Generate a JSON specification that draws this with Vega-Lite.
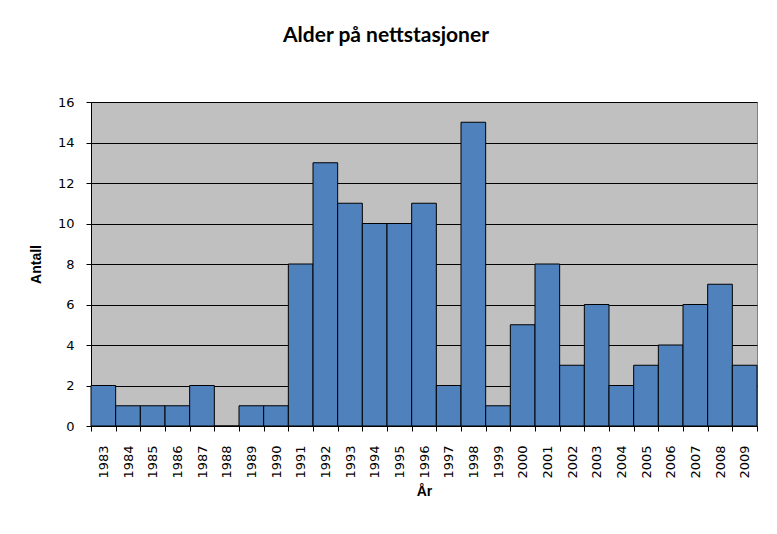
{
  "$schema": "https://vega.github.io/schema/vega-lite/v6.json",
  "width": 666,
  "height": 324,
  "autosize": {"type": "none"},
  "padding": {"left": 91, "top": 102, "right": 20, "bottom": 108},
  "background": "white",
  "title": {
    "text": "Alder på nettstasjoner",
    "font": "Lato",
    "fontSize": 21,
    "fontWeight": "bold",
    "color": "black",
    "anchor": "middle",
    "offset": 50,
    "dx": -38
  },
  "data": {
    "values": [
      {"year": "1983", "count": 2},
      {"year": "1984", "count": 1},
      {"year": "1985", "count": 1},
      {"year": "1986", "count": 1},
      {"year": "1987", "count": 2},
      {"year": "1988", "count": 0},
      {"year": "1989", "count": 1},
      {"year": "1990", "count": 1},
      {"year": "1991", "count": 8},
      {"year": "1992", "count": 13},
      {"year": "1993", "count": 11},
      {"year": "1994", "count": 10},
      {"year": "1995", "count": 10},
      {"year": "1996", "count": 11},
      {"year": "1997", "count": 2},
      {"year": "1998", "count": 15},
      {"year": "1999", "count": 1},
      {"year": "2000", "count": 5},
      {"year": "2001", "count": 8},
      {"year": "2002", "count": 3},
      {"year": "2003", "count": 6},
      {"year": "2004", "count": 2},
      {"year": "2005", "count": 3},
      {"year": "2006", "count": 4},
      {"year": "2007", "count": 6},
      {"year": "2008", "count": 7},
      {"year": "2009", "count": 3}
    ]
  },
  "mark": {"type": "bar", "fill": "#4F81BD", "stroke": "black", "strokeWidth": 1},
  "encoding": {
    "x": {
      "field": "year",
      "type": "ordinal",
      "scale": {"paddingInner": 0, "paddingOuter": 0},
      "axis": {
        "title": "År",
        "labelAngle": -90,
        "labelFont": "DejaVu Sans",
        "labelFontSize": 13,
        "labelColor": "black",
        "labelPadding": 14,
        "tickBand": "extent",
        "tickSize": 5,
        "tickColor": "black",
        "domainColor": "black",
        "titleFont": "Liberation Sans",
        "titleFontSize": 14,
        "titleFontWeight": "bold",
        "titleColor": "black",
        "titlePadding": 6
      }
    },
    "y": {
      "field": "count",
      "type": "quantitative",
      "scale": {"domain": [0, 16]},
      "axis": {
        "title": "Antall",
        "values": [0, 2, 4, 6, 8, 10, 12, 14, 16],
        "labelFont": "DejaVu Sans",
        "labelFontSize": 13,
        "labelColor": "black",
        "labelPadding": 12,
        "tickSize": 5,
        "tickColor": "black",
        "domainColor": "black",
        "grid": true,
        "gridColor": "black",
        "gridWidth": 1,
        "gridOpacity": 1,
        "titleFont": "Liberation Sans",
        "titleFontSize": 14,
        "titleFontWeight": "bold",
        "titleColor": "black",
        "titlePadding": 14
      }
    }
  },
  "config": {
    "view": {"fill": "#C0C0C0", "stroke": "#808080", "strokeWidth": 1}
  }
}
